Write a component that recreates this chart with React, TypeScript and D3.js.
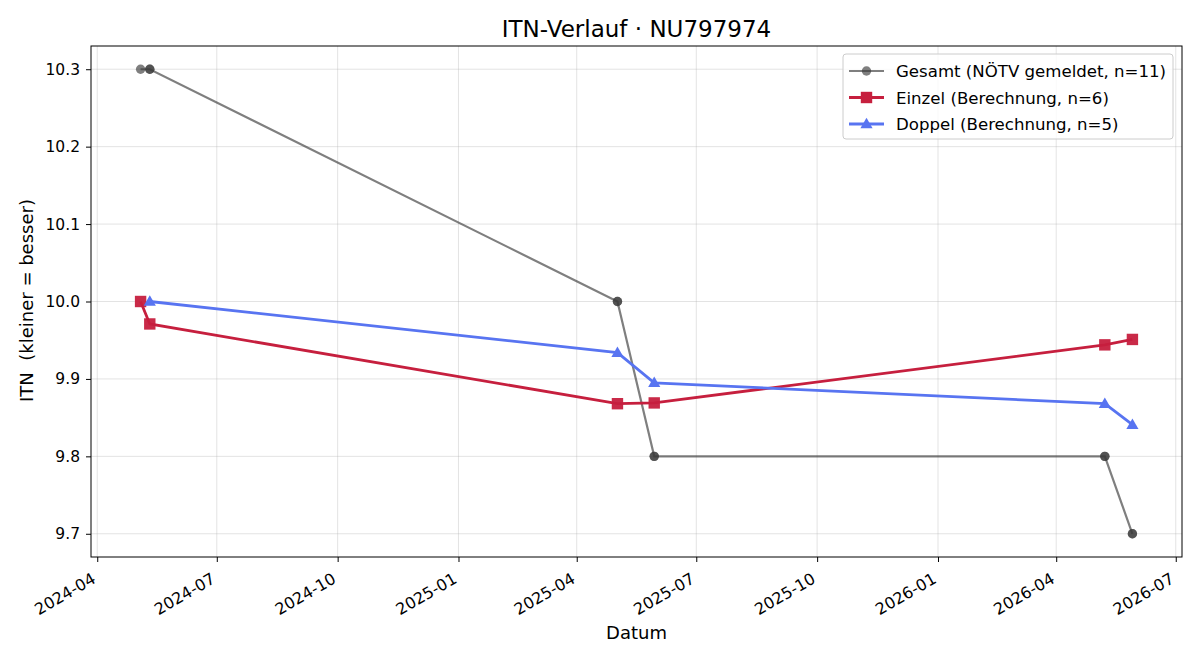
import React, { useEffect, useRef } from "react";
import * as d3 from "d3";

// dates of the matches (ISO strings)
const gesamtDates = [
  "2024-05-04", "2024-05-11", "2024-05-11",
  "2025-05-02", "2025-05-02", "2025-05-30", "2025-05-30",
  "2026-05-08", "2026-05-08", "2026-05-29", "2026-05-29",
];
const gesamtValues = [10.3, 10.3, 10.3, 10.0, 10.0, 9.8, 9.8, 9.8, 9.8, 9.7, 9.7];

const einzelDates = ["2024-05-04", "2024-05-11", "2025-05-02", "2025-05-30", "2026-05-08", "2026-05-29"];
const einzelValues = [10.0, 9.971, 9.868, 9.869, 9.944, 9.951];

const doppelDates = ["2024-05-11", "2025-05-02", "2025-05-30", "2026-05-08", "2026-05-29"];
const doppelValues = [10.0, 9.934, 9.895, 9.868, 9.841];

const yTicks = [9.7, 9.8, 9.9, 10.0, 10.1, 10.2, 10.3];

const legendLabels = [
  "Gesamt (NÖTV gemeldet, n=11)",
  "Einzel (Berechnung, n=6)",
  "Doppel (Berechnung, n=5)",
];

const FONT = "'DejaVu Sans', sans-serif";

const App = () => {
  const ref = useRef<SVGSVGElement>(null);

  useEffect(() => {
    const W = 1200, H = 660;
    const margin = { top: 46, right: 18, bottom: 103, left: 91 };
    const w = W - margin.left - margin.right;
    const h = H - margin.top - margin.bottom;

    const svg = d3.select(ref.current);
    svg.selectAll("*").remove();
    svg.append("rect").attr("width", W).attr("height", H).attr("fill", "white");

    const g = svg.append("g").attr("transform", `translate(${margin.left},${margin.top})`);

    const parse = d3.utcParse("%Y-%m-%d");
    const mk = (dates: string[], vals: number[]) =>
      dates.map((d, i) => ({ date: parse(d) as Date, v: vals[i] }));
    const gesamt = mk(gesamtDates, gesamtValues);
    const einzel = mk(einzelDates, einzelValues);
    const doppel = mk(doppelDates, doppelValues);

    const all = [...gesamt, ...einzel, ...doppel];
    const [t0, t1] = d3.extent(all, (d) => +d.date) as [number, number];
    const padT = (t1 - t0) * 0.05;
    const x = d3.scaleUtc().domain([new Date(t0 - padT), new Date(t1 + padT)]).range([0, w]);

    const [v0, v1] = d3.extent(all, (d) => d.v) as [number, number];
    const padV = (v1 - v0) * 0.05;
    const y = d3.scaleLinear().domain([v0 - padV, v1 + padV]).range([h, 0]);

    const xTicks = x.ticks(d3.utcMonth.every(3) as any);

    // grid
    g.selectAll(".vgrid").data(xTicks).join("line")
      .attr("x1", (d) => x(d)).attr("x2", (d) => x(d))
      .attr("y1", 0).attr("y2", h)
      .attr("stroke", "#b0b0b0").attr("stroke-opacity", 0.35).attr("stroke-width", 1);
    g.selectAll(".hgrid").data(yTicks).join("line")
      .attr("x1", 0).attr("x2", w)
      .attr("y1", (d) => y(d)).attr("y2", (d) => y(d))
      .attr("stroke", "#b0b0b0").attr("stroke-opacity", 0.35).attr("stroke-width", 1);

    // axes
    const xAxis = g.append("g").attr("transform", `translate(0,${h})`)
      .call(d3.axisBottom(x).tickValues(xTicks).tickFormat(d3.utcFormat("%Y-%m") as any).tickSize(5));
    xAxis.select(".domain").remove();
    xAxis.selectAll("text")
      .attr("font-family", FONT).attr("font-size", 16).attr("fill", "#000")
      .attr("text-anchor", "end")
      .attr("x", 0).attr("y", 0).attr("dy", 0)
      .attr("transform", "translate(-1,25) rotate(-30)");
    xAxis.selectAll("line").attr("stroke", "#000").attr("stroke-width", 1);

    const yAxis = g.append("g")
      .call(d3.axisLeft(y).tickValues(yTicks).tickFormat(d3.format(".1f") as any).tickSize(5).tickPadding(6));
    yAxis.select(".domain").remove();
    yAxis.selectAll("text").attr("font-family", FONT).attr("font-size", 15.5).attr("fill", "#000");
    yAxis.selectAll("line").attr("stroke", "#000").attr("stroke-width", 1);

    const line = d3.line<{ date: Date; v: number }>().x((d) => x(d.date)).y((d) => y(d.v));

    // Gesamt
    g.append("path").datum(gesamt).attr("d", line).attr("fill", "none")
      .attr("stroke", "#3a3a3a").attr("stroke-opacity", 0.65).attr("stroke-width", 2.2);
    g.selectAll(".gpt").data(gesamt).join("circle")
      .attr("cx", (d) => x(d.date)).attr("cy", (d) => y(d.v)).attr("r", 4.7)
      .attr("fill", "#3a3a3a").attr("fill-opacity", 0.65);

    // Einzel
    const red = "#c61f3e";
    g.append("path").datum(einzel).attr("d", line).attr("fill", "none")
      .attr("stroke", red).attr("stroke-width", 2.8);
    g.selectAll(".ept").data(einzel).join("rect")
      .attr("x", (d) => x(d.date) - 5.7).attr("y", (d) => y(d.v) - 5.7)
      .attr("width", 11.4).attr("height", 11.4)
      .attr("fill", red).attr("fill-opacity", 0.95);

    // Doppel
    const blue = "#5874f1";
    const tri = d3.symbol().type(d3.symbolTriangle).size(64);
    g.append("path").datum(doppel).attr("d", line).attr("fill", "none")
      .attr("stroke", blue).attr("stroke-width", 2.8);
    g.selectAll(".dpt").data(doppel).join("path")
      .attr("d", tri as any)
      .attr("transform", (d) => `translate(${x(d.date)},${y(d.v) + 0.8})`)
      .attr("fill", blue);

    // frame
    g.append("rect").attr("width", w).attr("height", h)
      .attr("fill", "none").attr("stroke", "#000").attr("stroke-width", 1);

    // title & labels
    svg.append("text").attr("x", margin.left + w / 2).attr("y", 36.5)
      .attr("text-anchor", "middle").attr("font-family", FONT).attr("font-size", 23)
      .text("ITN-Verlauf · NU797974");
    svg.append("text").attr("x", margin.left + w / 2).attr("y", 639)
      .attr("text-anchor", "middle").attr("font-family", FONT).attr("font-size", 18)
      .text("Datum");
    svg.append("text")
      .attr("transform", `translate(33,${margin.top + h / 2 - 1}) rotate(-90)`)
      .attr("text-anchor", "middle").attr("font-family", FONT).attr("font-size", 18)
      .style("white-space", "pre")
      .text("ITN  (kleiner = besser)");

    // legend
    const lg = svg.append("g").attr("transform", "translate(843,54)");
    lg.append("rect").attr("width", 330).attr("height", 85).attr("rx", 3)
      .attr("fill", "white").attr("fill-opacity", 0.8)
      .attr("stroke", "#cccccc").attr("stroke-width", 1);
    const rows = [
      { c: "#3a3a3a", op: 0.65, sw: 2.2, m: "circle" },
      { c: red, op: 1, sw: 2.8, m: "square" },
      { c: blue, op: 1, sw: 2.8, m: "tri" },
    ];
    rows.forEach((r, i) => {
      const cy = 17 + i * 26.5;
      lg.append("line").attr("x1", 6).attr("x2", 41).attr("y1", cy).attr("y2", cy)
        .attr("stroke", r.c).attr("stroke-opacity", r.op).attr("stroke-width", r.sw);
      if (r.m === "circle") {
        lg.append("circle").attr("cx", 23.5).attr("cy", cy).attr("r", 4.7)
          .attr("fill", r.c).attr("fill-opacity", r.op);
      } else if (r.m === "square") {
        lg.append("rect").attr("x", 23.5 - 5.7).attr("y", cy - 5.7).attr("width", 11.4).attr("height", 11.4)
          .attr("fill", r.c);
      } else {
        lg.append("path").attr("d", tri as any).attr("transform", `translate(23.5,${cy + 0.8})`)
          .attr("fill", r.c);
      }
      lg.append("text").attr("x", 53).attr("y", cy + 6)
        .attr("font-family", FONT).attr("font-size", 16.6).text(legendLabels[i]);
    });
  }, []);

  return (
    <svg ref={ref} width={1200} height={660}
      style={{ position: "absolute", left: 0, top: 0, display: "block" }} />
  );
};

export default App;
